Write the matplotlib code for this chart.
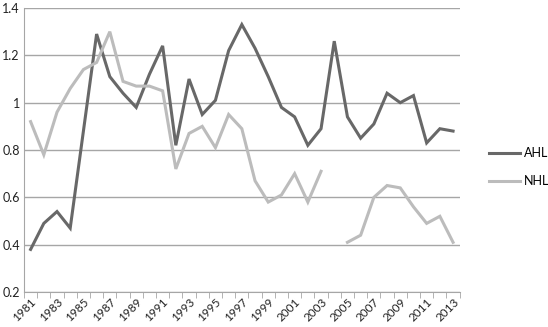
import numpy as np
import matplotlib
matplotlib.use('Agg')
import matplotlib.pyplot as plt

plt.rcParams['font.family'] = ['Lato', 'DejaVu Sans']

years = list(range(1981, 2014))
ahl = [0.38, 0.49, 0.54, 0.47, 0.88, 1.29, 1.11, 1.04, 0.98, 1.12, 1.24,
       0.82, 1.10, 0.95, 1.01, 1.22, 1.33, 1.23, 1.11, 0.98, 0.94, 0.82,
       0.89, 1.26, 0.94, 0.85, 0.91, 1.04, 1.00, 1.03, 0.83, 0.89, 0.88]
nhl = [0.92, 0.78, 0.96, 1.06, 1.14, 1.17, 1.30, 1.09, 1.07, 1.07, 1.05,
       0.72, 0.87, 0.90, 0.81, 0.95, 0.89, 0.67, 0.58, 0.61, 0.70, 0.58,
       0.71, np.nan, 0.41, 0.44, 0.60, 0.65, 0.64, 0.56, 0.49, 0.52, 0.41]
yticks = [0.2, 0.4, 0.6, 0.8, 1, 1.2, 1.4]
ylabels = ['0.2', '0.4', '0.6', '0.8', '1', '1.2', '1.4']

fig = plt.figure(figsize=(5.48, 3.27), dpi=100)
ax = fig.add_axes([0.0438, 0.107, 0.795, 0.8685])

x = np.arange(len(years))
ax.plot(x, ahl, color='#686868', lw=2.2, label='AHL', solid_joinstyle='miter')
ax.plot(x, nhl, color='#bcbcbc', lw=2.2, label='NHL', solid_joinstyle='miter')

ax.set_xlim(-0.5, len(years) - 0.5)
ax.set_ylim(0.2, 1.4)
ax.set_yticks(yticks)
ax.set_yticklabels(ylabels)
ax.yaxis.grid(True, color='#a6a6a6', lw=1)
ax.set_axisbelow(True)

# category labels on odd years, tick marks between categories
ax.set_xticks(x[::2])
ax.set_xticklabels([str(y) for y in years[::2]], rotation=45, ha='right',
                   rotation_mode='anchor')
ax.set_xticks(np.arange(-0.5, len(years), 1), minor=True)
ax.tick_params(axis='x', which='major', length=0, pad=3, labelsize=8.5)
ax.tick_params(axis='x', which='minor', length=4, color='#a6a6a6')
ax.tick_params(axis='y', length=0, pad=3, labelsize=9)
ax.tick_params(labelcolor='#222222')

for s in ['top', 'right']:
    ax.spines[s].set_visible(False)
ax.spines['left'].set_color('#a6a6a6')
ax.spines['bottom'].set_color('#a6a6a6')

ax.legend(loc='upper left', bbox_to_anchor=(0.892, 0.55),
          bbox_transform=fig.transFigure, frameon=False, borderpad=0,
          borderaxespad=0, fontsize=9, handlelength=2.5, labelspacing=1.3,
          handletextpad=0.3)

fig.savefig('out.png', dpi=100)
